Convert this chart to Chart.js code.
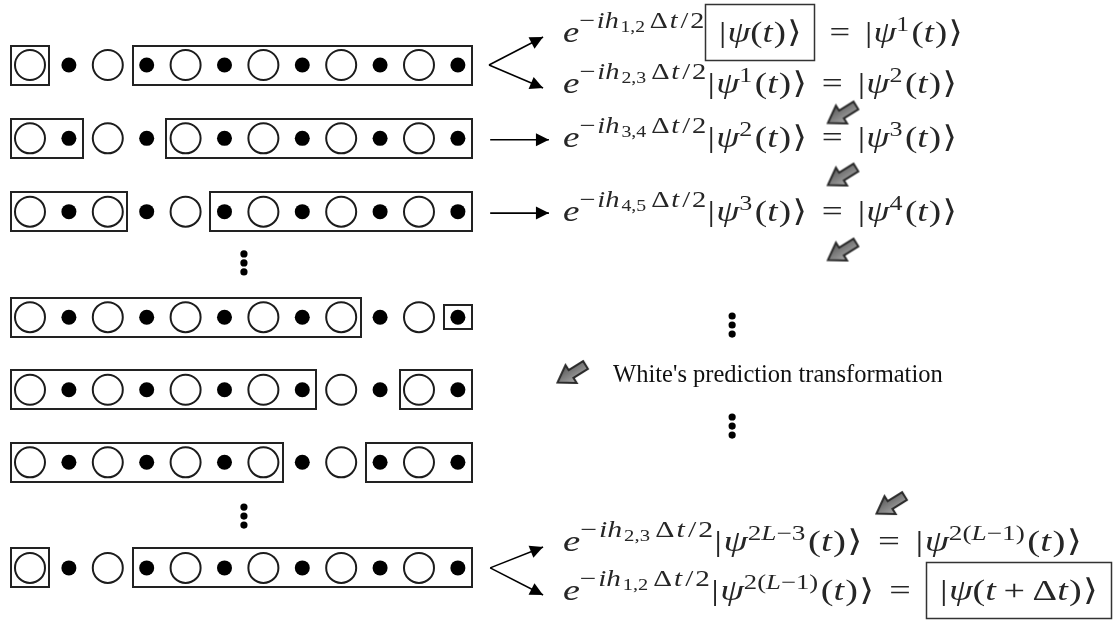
<!DOCTYPE html>
<html>
<head>
<meta charset="utf-8">
<script src="https://cdn.jsdelivr.net/npm/chart.js@4.4.1/dist/chart.umd.min.js"></script>
<style>
  body { margin: 0; background: #fff; }
  #wrap { width: 1116px; height: 623px; }
</style>
</head>
<body>
<div id="wrap"><canvas id="diagram" width="1116" height="623"></canvas></div>
<script>
// sites of the chain: big sites (open circles) alternate with small ones (dots)
const siteKinds = ['big', 'small', 'big', 'small', 'big', 'small',
                   'big', 'small', 'big', 'small', 'big', 'small'];

// the two blocks at each step of the sweep, as [first site, last site]
const stepBlocks = [
  [[0, 0], [3, 11]],
  [[0, 1], [4, 11]],
  [[0, 2], [5, 11]],
  [[0, 8], [11, 11]],
  [[0, 7], [10, 11]],
  [[0, 6], [9, 11]],
  [[0, 0], [3, 11]]
];
const stepLevels = [1, 2, 3, 4.44, 5.43, 6.42, 7.86];

// vertical ellipses (site, level)
const gapX = [5.5, 5.5, 18.05, 18.05];
const gapY = [3.70, 7.153, 4.547, 5.925];

// equations on the right
const pairLabels = ['1,2', '2,3', '3,4', '4,5', '2,3', '1,2'];
const stateIn = ['', '1', '2', '3', '2L−3', '2(L−1)'];
const stateOut = ['1', '2', '3', '4', '2(L−1)', ''];
const argOut = ['t', 't', 't', 't', 't', 't + Δt'];
const boxedIn = [true, false, false, false, false, false];
const boxedOut = [false, false, false, false, false, true];
const eqLevels = [0.686, 1.382, 2.119, 3.128, 7.630, 8.299];
const eqLeft = 13.70;
const eqRight = [23.98, 23.83, 23.83, 23.83, 27.04, 27.81];

// arrows from the chain to the equations: [from, to]
const linkFrom = [[11.80, 1.0], [11.80, 1.0], [11.83, 2.02], [11.83, 3.02], [11.83, 7.86], [11.83, 7.86]];
const linkTo = [[13.19, 0.618], [13.19, 1.314], [13.34, 2.02], [13.34, 3.02], [13.19, 7.576], [13.19, 8.23]];

// grey "next step" arrows
const hintX = [20.86, 20.86, 20.86, 13.91, 22.11];
const hintY = [1.675, 2.521, 3.544, 5.215, 7.003];

const caption = "White's prediction transformation";
const captionX = 14.99, captionLevel = 5.324;

// ---- build datasets
var bigPts = [], smallPts = [];
stepLevels.forEach(function (lv) {
  siteKinds.forEach(function (k, i) {
    (k === 'big' ? bigPts : smallPts).push({x: i, y: lv});
  });
});

var gapPts = [];
gapX.forEach(function (gx, i) {
  [-1, 0, 1].forEach(function (d) { gapPts.push({x: gx, y: gapY[i] + d * 0.123}); });
});

var hintPts = hintX.map(function (hx, i) { return {x: hx, y: hintY[i]}; });

function makeHintArrow() {
  var c = document.createElement('canvas');
  c.width = 46; c.height = 40;
  var g = c.getContext('2d');
  g.translate(23, 20);
  g.rotate(148 * Math.PI / 180);
  g.beginPath();
  g.moveTo(-17, -4.5); g.lineTo(0, -4.5); g.lineTo(0, -10.5); g.lineTo(16, 0);
  g.lineTo(0, 10.5); g.lineTo(0, 4.5); g.lineTo(-17, 4.5); g.closePath();
  var grad = g.createLinearGradient(0, -10, 0, 10);
  grad.addColorStop(0, '#a8a8a8');
  grad.addColorStop(1, '#5c5c5c');
  g.fillStyle = grad;
  g.shadowColor = 'rgba(0,0,0,0.35)';
  g.shadowBlur = 1.5;
  g.fill();
  g.shadowBlur = 0;
  g.lineWidth = 2;
  g.strokeStyle = '#2a2a2a';
  g.stroke();
  return c;
}

var datasets = [
  {label: 'big sites', data: bigPts, pointRadius: 15, pointHoverRadius: 15,
   borderWidth: 2, borderColor: '#1c1c1c', backgroundColor: '#fff'},
  {label: 'small sites', data: smallPts, pointRadius: 7.5, pointHoverRadius: 7.5,
   borderWidth: 0, backgroundColor: '#000'},
  {label: 'ellipsis', data: gapPts, pointRadius: 3.6, borderWidth: 0, backgroundColor: '#000'},
  {label: 'hints', data: hintPts, pointStyle: makeHintArrow(), pointRadius: 10}
];
linkFrom.forEach(function (f, i) {
  datasets.push({
    label: 'link' + i, link: true, showLine: true,
    data: [{x: f[0], y: f[1]}, {x: linkTo[i][0], y: linkTo[i][1]}],
    borderColor: '#000', borderWidth: 1.6, pointRadius: 0, fill: false
  });
});

// ---- small math typesetter
const mathStyles = {
  mi: {size: 30, italic: true, rise: 0},
  mr: {size: 30, italic: false, rise: 0},
  si: {size: 23, italic: true, rise: 14},
  sr: {size: 23, italic: false, rise: 14},
  ki: {size: 21, italic: true, rise: 11},
  kr: {size: 21, italic: false, rise: 11},
  tr: {size: 16, italic: false, rise: 10}
};
function fontOf(st) {
  return (st.italic ? 'italic ' : '') + st.size + 'px "Liberation Serif", "DejaVu Serif", serif';
}
function supRun(s, lvl) {
  var out = [];
  s.split(/([A-Za-z]+)/).forEach(function (p) {
    if (p) out.push([p, /[A-Za-z]/.test(p) ? lvl + 'i' : lvl + 'r']);
  });
  if (out.length) out.push([2, 'gap']);
  return out;
}
function argRun(s) {
  var out = [];
  s.split(' ').forEach(function (p) {
    if (p === '+') { out.push([6, 'gap'], ['+', 'mr'], [6, 'gap']); return; }
    for (var ch of p) out.push([ch, /[A-Za-z]/.test(ch) ? 'mi' : 'mr']);
  });
  return out;
}
function ket(sup, arg) {
  return [['|', 'mr'], [1, 'gap'], ['ψ', 'mi']].concat(supRun(sup, 'k'), [['(', 'mr']], argRun(arg),
    [[1, 'gap'], [')', 'mr'], [1, 'gap'], ['⟩', 'mr']]);
}
function expo(pair) {
  return [['e', 'mi'], ['−', 'sr'], [1.5, 'gap'], ['i', 'si'], ['h', 'si'], [1.5, 'gap'], [pair, 'tr'], [4, 'gap'],
          ['Δ', 'sr'], [1.5, 'gap'], ['t', 'si'], [2.5, 'gap'], ['/', 'sr'], [1.5, 'gap'], ['2', 'sr'], [1, 'gap']];
}
function boxed(tokens) { return [['[', 'box']].concat(tokens, [[']', 'box']]); }

function equationTokens(i) {
  var lhs = ket(stateIn[i], 't');
  var rhs = ket(stateOut[i], argOut[i]);
  if (boxedIn[i]) lhs = boxed(lhs);
  if (boxedOut[i]) rhs = boxed(rhs);
  return expo(pairLabels[i]).concat(lhs, [[12, 'gap'], ['=', 'mr'], [12, 'gap']], rhs);
}

function layoutMath(ctx, tokens) {
  var x = 0, items = [], boxes = [], open = 0;
  tokens.forEach(function (tk) {
    if (tk[1] === 'gap') { x += tk[0]; return; }
    if (tk[1] === 'box') {
      if (tk[0] === '[') { open = x; x += 11; } else { x += 11; boxes.push([open, x]); }
      return;
    }
    var st = mathStyles[tk[1]];
    ctx.font = fontOf(st);
    items.push({t: tk[0], st: st, x: x});
    x += ctx.measureText(tk[0]).width;
  });
  return {items: items, boxes: boxes, width: x};
}

const diagramPlugin = {
  id: 'diagram',
  beforeDatasetsDraw: function (chart) {
    var ctx = chart.ctx, xs = chart.scales.x, ys = chart.scales.y;
    ctx.save();
    ctx.strokeStyle = '#222';
    ctx.lineWidth = 2;
    stepBlocks.forEach(function (blocks, r) {
      var cy = ys.getPixelForValue(stepLevels[r]);
      blocks.forEach(function (b) {
        var padL = siteKinds[b[0]] === 'big' ? 0.5 : 0.36;
        var padR = siteKinds[b[1]] === 'big' ? 0.5 : 0.36;
        var hasBig = siteKinds.slice(b[0], b[1] + 1).indexOf('big') >= 0;
        var half = hasBig ? 19.5 : 12;
        var x0 = Math.round(xs.getPixelForValue(b[0] - padL));
        var x1 = Math.round(xs.getPixelForValue(b[1] + padR));
        ctx.strokeRect(x0, Math.round(cy - half), x1 - x0, Math.round(2 * half));
      });
    });
    ctx.restore();
  },
  afterDatasetsDraw: function (chart) {
    var ctx = chart.ctx, xs = chart.scales.x, ys = chart.scales.y;
    ctx.save();
    // arrow heads on the links
    chart.data.datasets.forEach(function (ds, i) {
      if (!ds.link) return;
      var pts = chart.getDatasetMeta(i).data;
      var a = pts[0], b = pts[1];
      var ang = Math.atan2(b.y - a.y, b.x - a.x);
      ctx.save();
      ctx.translate(b.x, b.y);
      ctx.rotate(ang);
      ctx.beginPath();
      ctx.moveTo(0, 0); ctx.lineTo(-13, -6.5); ctx.lineTo(-13, 6.5); ctx.closePath();
      ctx.fillStyle = '#000';
      ctx.fill();
      ctx.restore();
    });

    // equations
    ctx.fillStyle = '#262626';
    ctx.textBaseline = 'alphabetic';
    ctx.textAlign = 'left';
    pairLabels.forEach(function (p, i) {
      var lay = layoutMath(ctx, equationTokens(i));
      var left = xs.getPixelForValue(eqLeft);
      var sx = (xs.getPixelForValue(eqRight[i]) - left) / lay.width;
      var base = ys.getPixelForValue(eqLevels[i]);
      lay.items.forEach(function (it) {
        ctx.save();
        ctx.font = fontOf(it.st);
        ctx.translate(left + it.x * sx, base - it.st.rise);
        ctx.scale(sx, 1);
        ctx.fillText(it.t, 0, 0);
        ctx.restore();
      });
      ctx.strokeStyle = '#333';
      ctx.lineWidth = 1.5;
      lay.boxes.forEach(function (bx) {
        var x0 = Math.round(left + bx[0] * sx) + 0.5;
        var x1 = Math.round(left + bx[1] * sx) - 0.5;
        ctx.strokeRect(x0, Math.round(base - 38) + 0.5, x1 - x0, 56);
      });
    });

    // caption
    ctx.font = '24.5px "Liberation Serif", serif';
    ctx.fillStyle = '#111';
    ctx.fillText(caption, xs.getPixelForValue(captionX), ys.getPixelForValue(captionLevel));
    ctx.restore();
  }
};

var ctx = document.getElementById('diagram').getContext('2d');
var myChart = new Chart(ctx, {
  type: 'scatter',
  data: {datasets: datasets},
  options: {
    responsive: false,
    animation: false,
    devicePixelRatio: 1,
    events: [],
    layout: {padding: 0, autoPadding: false},
    plugins: {legend: {display: false}, tooltip: {enabled: false}},
    scales: {
      x: {type: 'linear', min: -0.771, max: 27.918, display: false},
      y: {type: 'linear', reverse: true, min: 0.113, max: 8.612, display: false}
    }
  },
  plugins: [diagramPlugin]
});
</script>
</body>
</html>
